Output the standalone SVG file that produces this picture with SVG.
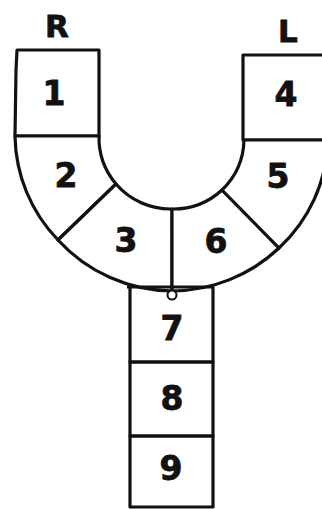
<svg xmlns="http://www.w3.org/2000/svg" width="322" height="509" viewBox="0 0 322 509">
<style>
.seg{fill:#fff;stroke:#111;stroke-width:3.2;stroke-linejoin:round}
.stem{fill:none;stroke:#111;stroke-width:3.2;stroke-linejoin:round}
.num{font-family:"DejaVu Sans",sans-serif;font-weight:bold;font-size:33px;text-anchor:middle;fill:#111;stroke:#111;stroke-width:0.8}
.side{font-family:"DejaVu Sans",sans-serif;font-weight:bold;font-size:31px;text-anchor:middle;fill:#111;stroke:#111;stroke-width:0.8}
</style>
<rect width="322" height="509" fill="#fff"/>
<text class="side" x="57" y="37">R</text>
<text class="side" x="288" y="42">L</text>
<g id="n1"><path class="seg" d="M17,50 H99 V136 H15 L16,70 Z"/><text class="num" x="54" y="105">1</text></g>
<g id="n4"><path class="seg" d="M243,55 H332 V140 H243 Z"/><text class="num" x="286" y="106">4</text></g>
<g id="n2"><path class="seg" d="M15,136 H99 A72,72 0 0 0 116,184 L58,240 A156,154 0 0 1 15,136 Z"/><text class="num" x="66" y="187">2</text></g>
<g id="n3"><path class="seg" d="M116,184 A72,72 0 0 0 172,209 V291 A156,154 0 0 1 58,240 Z"/><text class="num" x="126" y="252">3</text></g>
<g id="n6"><path class="seg" d="M172,209 A72,72 0 0 0 222,190 L279,248 A156,154 0 0 1 172,291 Z"/><text class="num" x="216" y="253">6</text></g>
<g id="n5"><path class="seg" d="M222,190 A72,72 0 0 0 244,140 H328 A156,154 0 0 1 279,248 Z"/><text class="num" x="278" y="188">5</text></g>
<g id="n7"><path class="stem" d="M127,287 H213 V362 H130 V287"/><text class="num" x="172" y="340">7</text></g>
<g id="n8"><rect class="stem" x="130" y="362" width="83" height="74"/><text class="num" x="172" y="410">8</text></g>
<g id="n9"><rect class="stem" x="130" y="436" width="83" height="71"/><text class="num" x="171" y="480">9</text></g>
<circle cx="172" cy="295" r="4.5" fill="#fff" stroke="#111" stroke-width="2"/>
<g id="connectors"/>
</svg>
